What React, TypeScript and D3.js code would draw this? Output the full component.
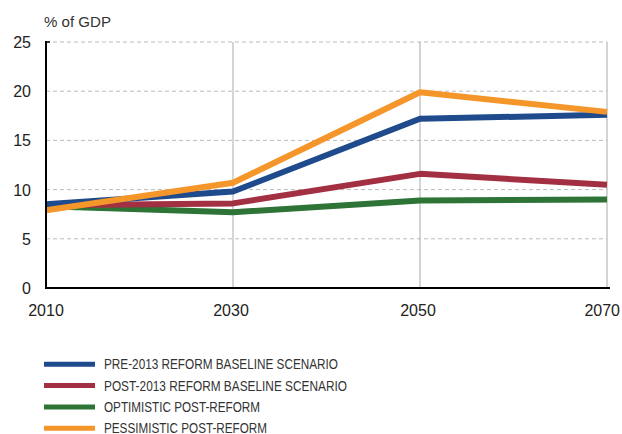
import React from "react";
import * as d3 from "d3";

const years = [2010, 2030, 2050, 2070];
const yTicks = [0, 5, 10, 15, 20, 25];
const seriesNames = [
  "PRE-2013 REFORM BASELINE SCENARIO",
  "POST-2013 REFORM BASELINE SCENARIO",
  "OPTIMISTIC POST-REFORM",
  "PESSIMISTIC POST-REFORM",
];
const pre2013 = [8.5, 9.8, 17.2, 17.6];
const post2013 = [8.4, 8.6, 11.6, 10.5];
const optimistic = [8.3, 7.7, 8.9, 9.0];
const pessimistic = [7.9, 10.7, 19.9, 17.9];
const colors = ["#1f4a8c", "#a22f42", "#2e7437", "#f5962a"];
const drawOrder = [2, 1, 0, 3];
const legendWidths = [234, 243, 156, 163];

export default function App() {
  const W = 622, H = 434;
  const x = d3.scaleLinear().domain([2010, 2070]).range([46, 607]);
  const y = d3.scaleLinear().domain([0, 25]).range([288, 42]);
  const data = [pre2013, post2013, optimistic, pessimistic];
  const line = d3
    .line<number>()
    .x((_, i) => x(years[i]))
    .y((d) => y(d));
  const font = "'Liberation Sans', Arial, sans-serif";
  return (
    <svg width={W} height={H} style={{ position: "absolute", left: 0, top: 0 }}>
      <rect width={W} height={H} fill="#fff" />
      <text x={44} y={27} fontFamily={font} fontSize={15} fill="#333" textLength={67} lengthAdjust="spacingAndGlyphs">% of GDP</text>
      {yTicks.filter((t) => t > 0).map((t) => (
        <line key={t} x1={x(2010)} x2={x(2070)} y1={y(t)} y2={y(t)} stroke="#bbb" strokeWidth={1} strokeDasharray="4,3" />
      ))}
      {years.slice(1).map((yr) => (
        <line key={yr} x1={x(yr)} x2={x(yr)} y1={y(25)} y2={y(0)} stroke="#aaa" strokeWidth={1} />
      ))}
      {yTicks.map((t) => (
        <text key={t} x={31} y={y(t) + 6} textAnchor="end" fontFamily={font} fontSize={16} fill="#222">{t}</text>
      ))}
      {years.map((yr, i) => (
        <text
          key={yr}
          x={i === years.length - 1 ? 620 : x(yr) - (i === 0 ? 0 : 2)}
          y={316}
          textAnchor={i === years.length - 1 ? "end" : "middle"}
          fontFamily={font}
          fontSize={16}
          fill="#222"
        >
          {yr}
        </text>
      ))}
      <line x1={x(2010)} x2={x(2010) + 4} y1={y(25)} y2={y(25)} stroke="#000" strokeWidth={1.5} />
      {drawOrder.map((i) => (
        <path key={i} d={line(data[i]) || ""} fill="none" stroke={colors[i]} strokeWidth={6} strokeLinejoin="round" />
      ))}
      <line x1={x(2010)} x2={x(2010)} y1={y(25) - 1} y2={y(0) + 1} stroke="#000" strokeWidth={2} />
      <line x1={x(2010)} x2={x(2070) + 3} y1={y(0)} y2={y(0)} stroke="#000" strokeWidth={2} />
      {seriesNames.map((name, i) => {
        const ly = 364.3 + i * 21.3;
        return (
          <g key={name}>
            <line x1={44} x2={95} y1={ly} y2={ly} stroke={colors[i]} strokeWidth={5} />
            <text
              x={104}
              y={ly + 5}
              fontFamily={font}
              fontSize={15}
              fill="#333"
              textLength={legendWidths[i]}
              lengthAdjust="spacingAndGlyphs"
            >
              {name}
            </text>
          </g>
        );
      })}
    </svg>
  );
}
